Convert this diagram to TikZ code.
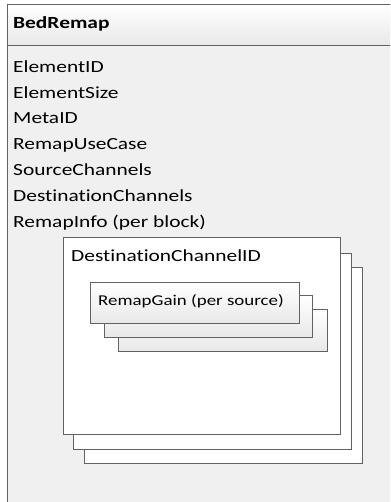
\documentclass[tikz,border=0pt]{standalone}
\usepackage{fontspec}
\setmainfont{Carlito}[FakeStretch=1.26, Ligatures=NoCommon]
\definecolor{panelgray}{HTML}{F0F0F0}
\definecolor{linegray}{HTML}{626262}
\definecolor{headgray}{HTML}{E8E8E8}

\begin{document}
\begin{tikzpicture}[x=1pt, y=-1pt, font=\fontsize{17}{20}\selectfont,
    sheet/.style={draw=linegray, line width=1.1pt, fill=white, anchor=north west, inner sep=0pt},
    gainsheet/.style={sheet, top color=white, bottom color=headgray},
    field/.style={anchor=base west, inner sep=0pt}]
    \useasboundingbox (0,0) rectangle (390,502);
    \clip (0,0) rectangle (390,502);

    % Outer class box with header
    \node[draw=linegray, line width=1.1pt, fill=panelgray, anchor=north west, inner sep=0pt, minimum width=400pt, minimum height=520pt] (bedremap) at (7,4) {};
    \node[draw=linegray, line width=1.1pt, top color=white, bottom color=headgray, anchor=north west, inner sep=0pt, minimum width=400pt, minimum height=41pt] (header) at (7,4) {};
    \node[field, font=\fontsize{17}{20}\selectfont\bfseries] (title) at (13,29) {BedRemap};

    % Fields
    \node[field] (elementid) at (13,72.2) {ElementID};
    \node[field] (elementsize) at (13,98.1) {ElementSize};
    \node[field] (metaid) at (13,124) {MetaID};
    \node[field] (usecase) at (13,149.9) {RemapUseCase};
    \node[field] (srcch) at (13,175.8) {SourceChannels};
    \node[field] (dstch) at (13,201.7) {DestinationChannels};
    \node[field] (remapinfo) at (13,227.6) {RemapInfo (per block)};

    % Stack of destination channel blocks
    \node[sheet, minimum width=278pt, minimum height=196pt] (dest3) at (84,267) {};
    \node[sheet, minimum width=278pt, minimum height=196pt] (dest2) at (73,253) {};
    \node[sheet, minimum width=277pt, minimum height=197pt] (dest1) at (63,237) {};
    \node[field] (destid) at (71,261) {DestinationChannelID};

    % Stack of gain blocks
    \node[gainsheet, minimum width=209pt, minimum height=42pt] (gain3) at (118,309) {};
    \node[gainsheet, minimum width=208pt, minimum height=42pt] (gain2) at (104,295) {};
    \node[gainsheet, minimum width=209pt, minimum height=41pt] (gain1) at (90,282) {};
    \node[field, font=\fontsize{15}{18}\selectfont] (gainlabel) at (98,305.5) {RemapGain (per source)};
\end{tikzpicture}
\end{document}
